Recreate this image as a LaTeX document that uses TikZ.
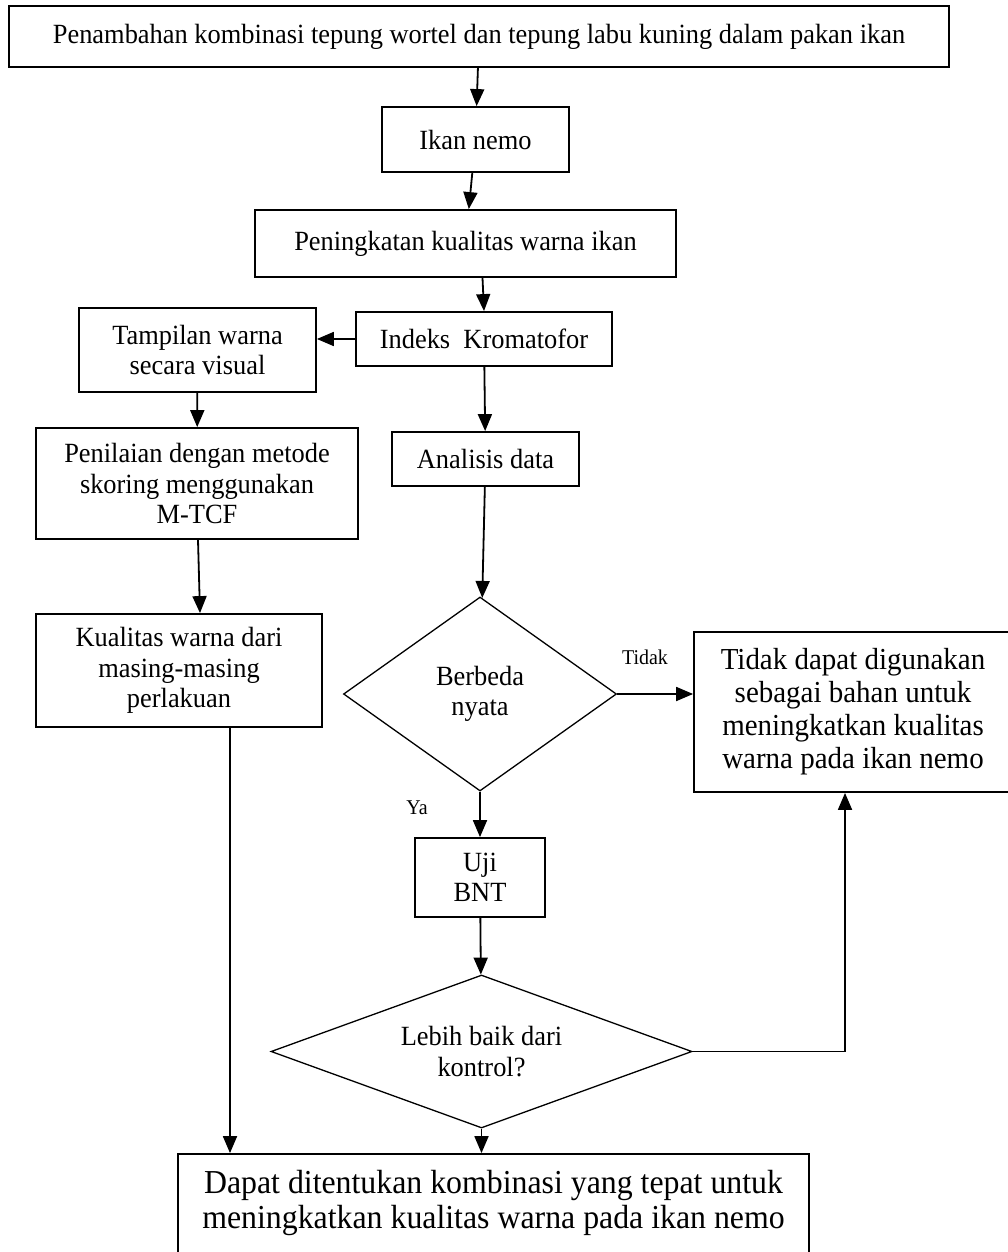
\documentclass[tikz,border=0pt]{standalone}
\usepackage{fontspec}
\setmainfont{Liberation Serif}[FakeStretch=0.95]
\usetikzlibrary{arrows.meta,shapes.geometric}
\newcommand\fsnorm{\fontsize{27.8}{30.5}\selectfont}
\newcommand\fsbig{\fontsize{30.5}{33}\selectfont}
\newcommand\fshuge{\fontsize{33.5}{35}\selectfont}
\newcommand\fssmall{\fontsize{21}{23}\selectfont}
\begin{document}
\begin{tikzpicture}[x=1pt,y=-1pt,
  box/.style={draw, line width=1.8pt, rectangle, inner sep=0pt, align=center, font=\fsnorm},
  dia/.style={draw, diamond, line width=1.3pt, inner sep=0pt, align=center, font=\fsnorm},
  arr/.style={line width=1.8pt, -{Triangle[length=17pt,width=14pt]}},
  lab/.style={inner sep=0pt, font=\fssmall}]
\useasboundingbox (0,0) rectangle (1008,1252);
\node[box, minimum width=940pt, minimum height=61pt] (top) at (479,36.5) {Penambahan kombinasi tepung wortel dan tepung labu kuning dalam pakan ikan};
\node[box, minimum width=187pt, minimum height=65pt] (nemo) at (475.5,139.5) {Ikan nemo};
\node[box, minimum width=421pt, minimum height=67pt] (pen) at (465.5,243.5) {Peningkatan kualitas warna ikan};
\node[box, minimum width=256pt, minimum height=54pt] (ind) at (484,339) {Indeks\ \ Kromatofor};
\node[box, minimum width=237pt, minimum height=84pt] (tamp) at (197.5,350) {Tampilan warna\\secara visual};
\node[box, minimum width=322pt, minimum height=111pt] (penil) at (197,483.5) {Penilaian dengan metode\\skoring menggunakan\\M-TCF};
\node[box, minimum width=286pt, minimum height=113pt] (kual) at (179,670.5) {Kualitas warna dari\\masing-masing\\perlakuan};
\node[box, minimum width=187pt, minimum height=54pt] (anal) at (485.5,459) {Analisis data};
\node[dia, aspect=1.4, minimum width=273pt, minimum height=194pt] (ber) at (480,694) {Berbeda\\nyata};
\node[box, font=\fsbig, minimum width=318pt, minimum height=160pt] (tidak) at (853,712) {Tidak dapat digunakan\\sebagai bahan untuk\\meningkatkan kualitas\\warna pada ikan nemo};
\node[box, minimum width=130pt, minimum height=79pt] (uji) at (480,877.5) {Uji\\BNT};
\node[dia, aspect=2.75, minimum width=421pt, minimum height=153pt] (leb) at (481.5,1051.5) {Lebih baik dari\\kontrol?};
\node[box, minimum width=631pt, minimum height=108pt] (dapat) at (493.5,1208) {};
\node[inner sep=0pt, align=center, font=\fshuge] (dapattxt) at (493.5,1203) {Dapat ditentukan kombinasi yang tepat untuk\\meningkatkan kualitas warna pada ikan nemo};
\node[lab] (ltidak) at (645,657) {Tidak};
\node[lab] (lya) at (417,808) {Ya};
\draw[arr] (top) -- (nemo);
\draw[arr] (nemo) -- (pen);
\draw[arr] ([xshift=17pt]pen.south) -- (ind.north);
\draw[arr] (ind.west) -- (ind.west -| tamp.east);
\draw[arr] (tamp) -- (penil);
\draw[arr] ([xshift=1pt]penil.south) -- ([xshift=21pt]kual.north);
\draw[arr] (ind) -- (anal);
\draw[arr] (anal) -- (ber);
\draw[arr] (ber.east) -- (ber.east -| tidak.west);
\draw[arr] (ber.south) -- (uji.north);
\draw[arr] (uji) -- (leb);
\draw[arr] (leb.south) -- (leb.south |- dapat.north);
\coordinate (k1) at ([xshift=51pt]kual.south);
\draw[arr] (k1) -- (k1 |- dapat.north);
\draw[arr] (leb.east) -| ([xshift=-8pt]tidak.south);
\end{tikzpicture}
\end{document}
